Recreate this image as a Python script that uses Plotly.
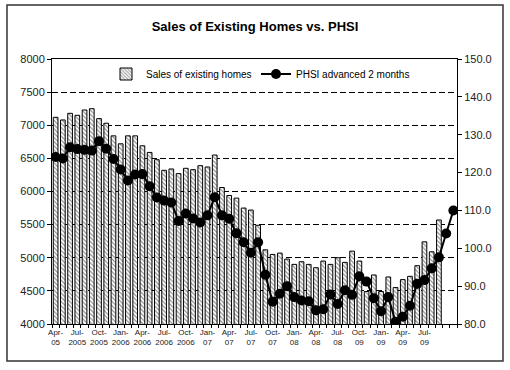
import plotly.graph_objects as go

months = [
    "Apr-05", "May-05", "Jun-05", "Jul-05", "Aug-05", "Sep-05", "Oct-05", "Nov-05", "Dec-05",
    "Jan-06", "Feb-06", "Mar-06", "Apr-06", "May-06", "Jun-06", "Jul-06", "Aug-06", "Sep-06", "Oct-06", "Nov-06", "Dec-06",
    "Jan-07", "Feb-07", "Mar-07", "Apr-07", "May-07", "Jun-07", "Jul-07", "Aug-07", "Sep-07", "Oct-07", "Nov-07", "Dec-07",
    "Jan-08", "Feb-08", "Mar-08", "Apr-08", "May-08", "Jun-08", "Jul-08", "Aug-08", "Sep-08", "Oct-08", "Nov-08", "Dec-08",
    "Jan-09", "Feb-09", "Mar-09", "Apr-09", "May-09", "Jun-09", "Jul-09", "Aug-09", "Sep-09", "Oct-09", "Nov-09",
]

# Sales of existing homes (thousands, SAAR) - Apr-05 .. Sep-09
sales = [
    7120, 7080, 7180, 7150, 7230, 7250, 7100, 7030, 6840,
    6720, 6840, 6840, 6690, 6590, 6480, 6320, 6340, 6270, 6350, 6330, 6390,
    6370, 6550, 6060, 5940, 5900, 5750, 5720, 5490, 5120, 5050, 5070, 4980,
    4900, 4940, 4900, 4850, 4950, 4900, 5000, 4930, 5100, 4950, 4490, 4740,
    4490, 4710, 4550, 4670, 4720, 4880, 5240, 5090, 5570,
]

# PHSI advanced 2 months - Apr-05 .. Nov-09
phsi = [
    124.1, 123.7, 126.7, 126.2, 126.0, 125.8, 128.3, 126.3, 123.6, 120.8, 117.9, 119.5,
    119.6, 116.4, 113.4, 112.6, 112.1, 107.2, 109.2, 107.9, 106.8, 108.7, 113.5, 108.7,
    107.8, 104.0, 101.6, 98.8, 101.6, 93.0, 85.9, 88.0, 90.0, 87.1, 86.2, 86.0,
    83.6, 83.9, 87.8, 85.3, 88.9, 87.7, 92.6, 91.2, 86.8, 83.4, 87.1, 80.6,
    81.9, 84.8, 90.6, 91.6, 94.7, 97.6, 103.9, 110.0,
]

tick_months = ["Apr-05", "Jul-05", "Oct-05", "Jan-06", "Apr-06", "Jul-06", "Oct-06", "Jan-07", "Apr-07",
               "Jul-07", "Oct-07", "Jan-08", "Apr-08", "Jul-08", "Oct-08", "Jan-09", "Apr-09", "Jul-09"]
tick_labels = ["Apr-<br>05", "Jul-<br>2005", "Oct-<br>2005", "Jan-<br>2006", "Apr-<br>2006", "Jul-<br>2006",
               "Oct-<br>2006", "Jan-<br>07", "Apr-<br>07", "Jul-<br>07", "Oct-<br>07", "Jan-<br>08",
               "Apr-<br>08", "Jul-<br>08", "Oct-<br>09", "Jan-<br>09", "Apr-<br>09", "Jul-<br>09"]

label_map = dict(zip(tick_months, tick_labels))
all_ticktext = [label_map.get(m, "") for m in months]

FONT = "Liberation Sans, Arial, sans-serif"

fig = go.Figure()
fig.add_trace(go.Bar(
    x=months[:len(sales)], y=sales, name="Sales of existing homes",
    marker=dict(color="white", line=dict(color="black", width=1),
                pattern=dict(shape="\\", fgcolor="#222222", bgcolor="white", size=3, solidity=0.4)),
    yaxis="y", legend="legend",
))
fig.add_trace(go.Scatter(
    x=months, y=phsi, name="PHSI advanced 2 months", mode="lines+markers",
    line=dict(color="black", width=2),
    marker=dict(color="black", size=10, symbol="circle"),
    yaxis="y2", legend="legend2",
))

legend_common = dict(orientation="h", xanchor="left", y=(324 - 74) / 265, yanchor="middle",
                     bgcolor="rgba(0,0,0,0)", font=dict(size=10, family=FONT), itemwidth=30)

fig.update_layout(
    width=510, height=370,
    margin=dict(l=52, r=53, t=59, b=46),
    paper_bgcolor="white", plot_bgcolor="white",
    font=dict(family=FONT, color="black"),
    title=dict(text="<b>Sales of Existing Homes vs. PHSI</b>", x=0.5, xanchor="center",
               y=1 - 26 / 370, yanchor="middle", yref="container",
               font=dict(size=13, family=FONT, color="black")),
    bargap=0.35,
    showlegend=True,
    legend=dict(x=(106 - 52) / 405, **legend_common),
    legend2=dict(x=(256 - 52) / 405, **legend_common),
    xaxis=dict(type="category", tickmode="array", tickvals=months, ticktext=all_ticktext,
               tickson="boundaries", ticks="outside", ticklen=3, tickcolor="black",
               showline=True, linecolor="black", linewidth=1, mirror=True,
               showgrid=False, tickangle=0, tickfont=dict(size=8, family=FONT, color="#222222"),
               range=[-0.5, len(months) - 0.5]),
    yaxis=dict(range=[4000, 8000], dtick=500, tick0=4000, ticks="outside", ticklen=4, tickcolor="black",
               showline=True, linecolor="black", linewidth=1,
               showgrid=True, gridcolor="black", gridwidth=1, griddash="6px,3px",
               tickfont=dict(size=11, family=FONT, color="#222222"), zeroline=False),
    yaxis2=dict(range=[80, 150], dtick=10, tick0=80, tickformat=".1f", overlaying="y", side="right",
                ticks="outside", ticklen=4, tickcolor="black",
                showline=True, linecolor="black", linewidth=1, showgrid=False, zeroline=False,
                tickfont=dict(size=11, family=FONT, color="#222222")),
    shapes=[dict(type="rect", xref="paper", yref="paper",
                 x0=(7 - 52) / 405, x1=(503 - 52) / 405, y0=(324 - 361) / 265, y1=(324 - 5) / 265,
                 line=dict(color="#333333", width=1.5), fillcolor="rgba(0,0,0,0)", layer="below")],
)

fig.write_html("out.html", config={"displayModeBar": False},
               post_script="document.body.style.margin='0';")
